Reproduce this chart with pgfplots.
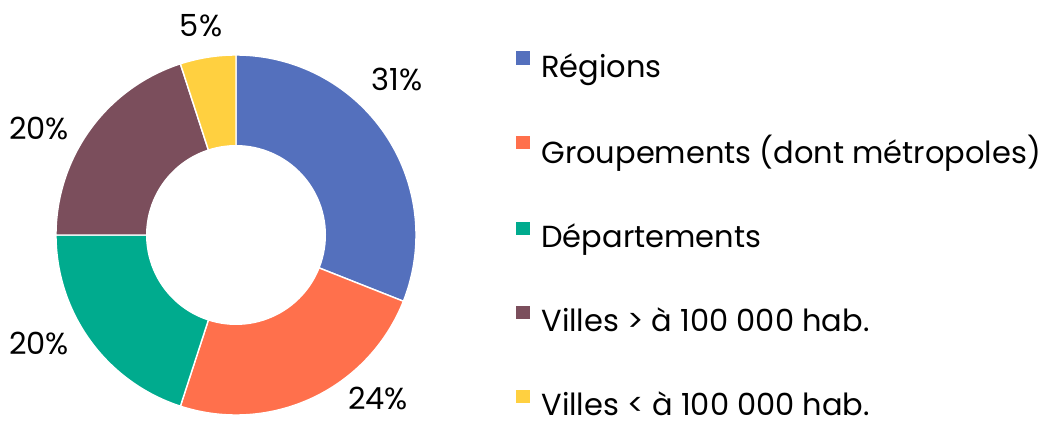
\documentclass[border=0pt]{standalone}
\usepackage{fontspec}
\setmainfont{Poppins}
\usepackage{pgfplots}
\usepackage{pgfplotstable}
\pgfplotsset{compat=1.18}

\definecolor{cReg}{RGB}{84,112,189}
\definecolor{cGrp}{RGB}{255,112,76}
\definecolor{cDep}{RGB}{0,171,142}
\definecolor{cVsup}{RGB}{123,78,92}
\definecolor{cVinf}{RGB}{255,208,64}

% part of each kind of collectivity (%)
\pgfplotstableread{
pct
31
24
20
20
5
}\donutdata

\pgfplotstablegetelem{0}{pct}\of\donutdata\edef\pA{\pgfplotsretval}
\pgfplotstablegetelem{1}{pct}\of\donutdata\edef\pB{\pgfplotsretval}
\pgfplotstablegetelem{2}{pct}\of\donutdata\edef\pC{\pgfplotsretval}
\pgfplotstablegetelem{3}{pct}\of\donutdata\edef\pD{\pgfplotsretval}
\pgfplotstablegetelem{4}{pct}\of\donutdata\edef\pE{\pgfplotsretval}
% slice boundaries, clockwise from the top
\pgfmathsetmacro\aA{90}
\pgfmathsetmacro\aB{\aA-3.6*\pA}
\pgfmathsetmacro\aC{\aB-3.6*\pB}
\pgfmathsetmacro\aD{\aC-3.6*\pC}
\pgfmathsetmacro\aE{\aD-3.6*\pD}
\pgfmathsetmacro\aF{\aE-3.6*\pE}

\newcommand{\lbl}{\fontsize{13}{15}\selectfont}
\newcommand{\st}{\rule[-0.08cm]{0pt}{0.45cm}}

\begin{document}
\begin{tikzpicture}
\begin{axis}[
  name=ax,
  x=0.015cm, y=0.015cm,
  xmin=0, xmax=1050, ymin=0, ymax=425,
  hide axis, xtick=\empty, ytick=\empty, clip=false,
  legend image code/.code={\fill[#1] (0cm,0.015cm) rectangle (0.225cm,0.24cm);},
  legend cell align=left,
  legend style={at={(axis cs:515,375)}, anchor=north west, draw=none, fill=none,
    inner sep=0pt, outer sep=0pt,
    font=\lbl, row sep=0.80cm, column sep=0.15cm,
    nodes={inner sep=0pt, outer sep=0pt}},
]
\addplot[fill=cReg, draw=white, line width=0.6pt, domain=0:1, samples=80]
  ({236+180*cos(\aA+(\aB-\aA)*x)}, {190+180*sin(\aA+(\aB-\aA)*x)}) -- (axis cs:236,190) -- cycle;
\addlegendentry{\st Régions}
\addplot[fill=cGrp, draw=white, line width=0.6pt, domain=0:1, samples=80]
  ({236+180*cos(\aB+(\aC-\aB)*x)}, {190+180*sin(\aB+(\aC-\aB)*x)}) -- (axis cs:236,190) -- cycle;
\addlegendentry{\st Groupements (dont métropoles)}
\addplot[fill=cDep, draw=white, line width=0.6pt, domain=0:1, samples=80]
  ({236+180*cos(\aC+(\aD-\aC)*x)}, {190+180*sin(\aC+(\aD-\aC)*x)}) -- (axis cs:236,190) -- cycle;
\addlegendentry{\st Départements}
\addplot[fill=cVsup, draw=white, line width=0.6pt, domain=0:1, samples=80]
  ({236+180*cos(\aD+(\aE-\aD)*x)}, {190+180*sin(\aD+(\aE-\aD)*x)}) -- (axis cs:236,190) -- cycle;
\addlegendentry{\st Villes > à 100 000 hab.}
\addplot[fill=cVinf, draw=white, line width=0.6pt, domain=0:1, samples=40]
  ({236+180*cos(\aE+(\aF-\aE)*x)}, {190+180*sin(\aE+(\aF-\aE)*x)}) -- (axis cs:236,190) -- cycle;
\addlegendentry{\st Villes < à 100 000 hab.}
% hole of the donut
\addplot[fill=white, draw=none, domain=0:360, samples=120, forget plot]
  ({236+90*cos(x)}, {190+90*sin(x)}) -- cycle;

\node[font=\lbl] at (axis cs:397,346) {31\%};
\node[font=\lbl] at (axis cs:378,27) {24\%};
\node[font=\lbl] at (axis cs:39,297) {20\%};
\node[font=\lbl] at (axis cs:39,82) {20\%};
\node[font=\lbl] at (axis cs:201,399) {5\%};
\end{axis}
\pgfresetboundingbox
\path (ax.south west) rectangle (ax.north east);
\end{tikzpicture}
\end{document}
